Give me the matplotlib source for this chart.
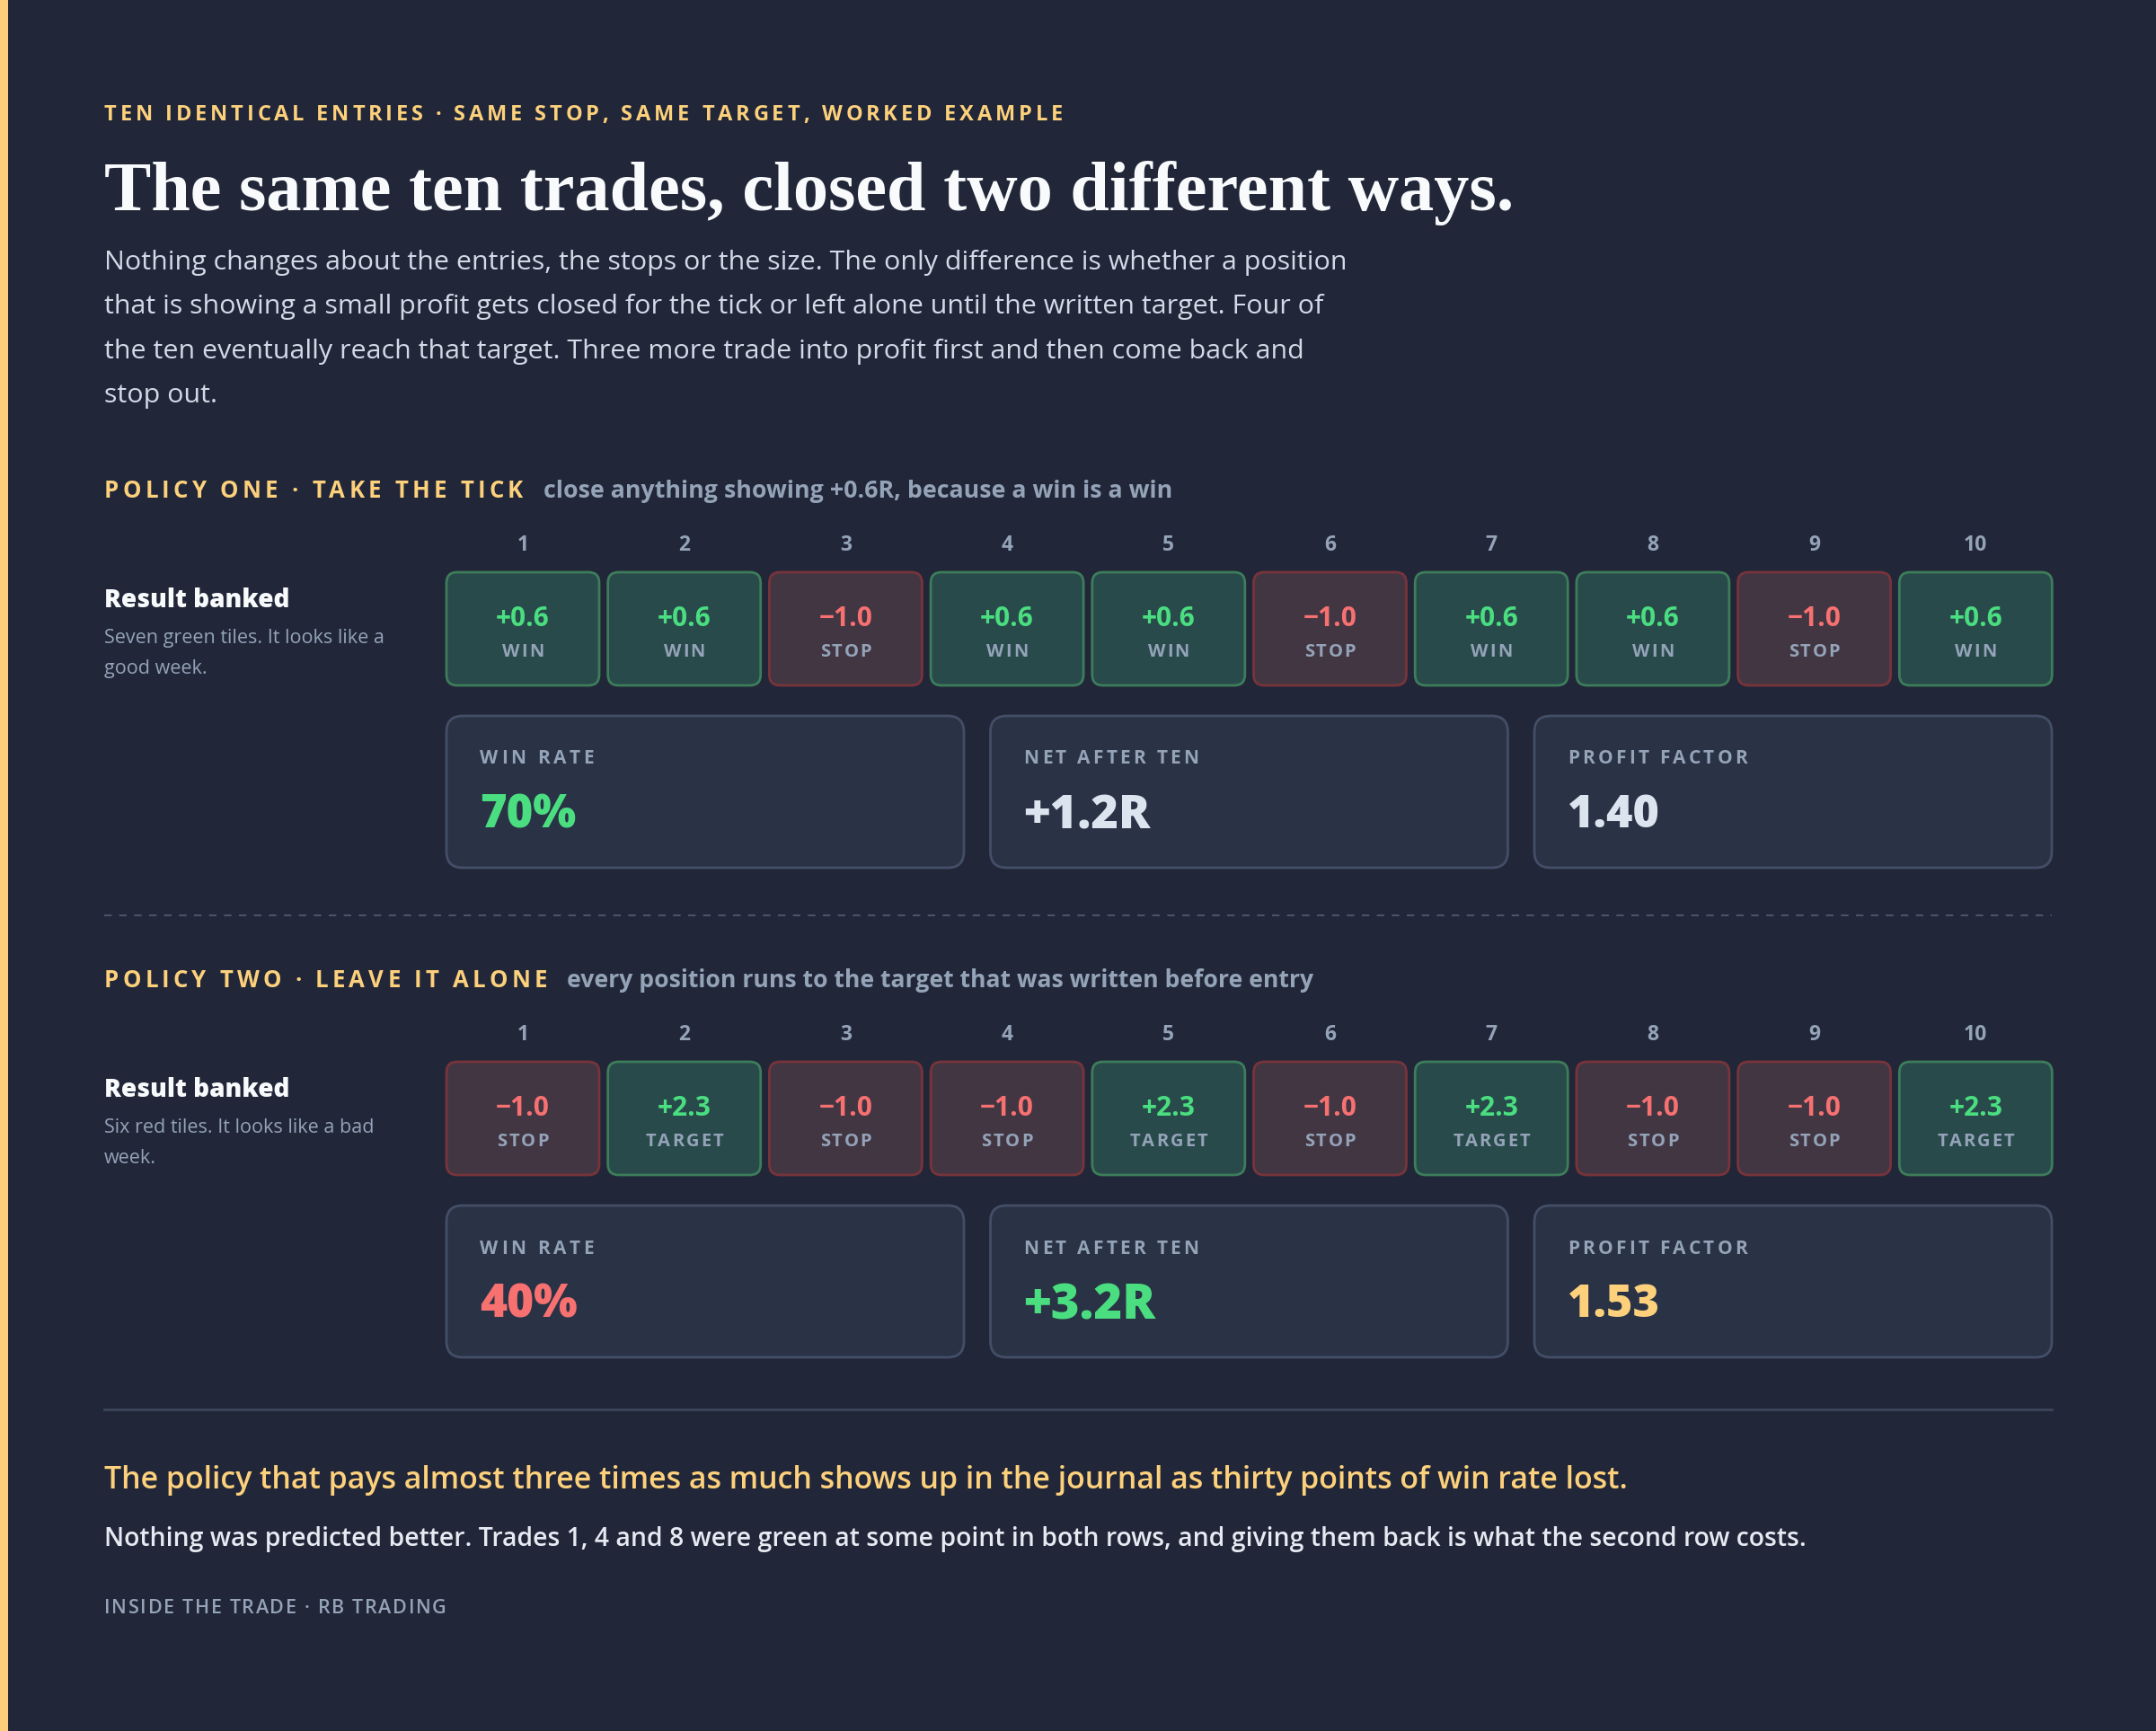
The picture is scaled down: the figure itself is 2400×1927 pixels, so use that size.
import matplotlib
matplotlib.use("Agg")
import matplotlib.pyplot as plt
from matplotlib.patches import FancyBboxPatch, Rectangle

# ---- data -------------------------------------------------------------
trade_numbers = [1, 2, 3, 4, 5, 6, 7, 8, 9, 10]

policy_one_r = [0.6, 0.6, -1.0, 0.6, 0.6, -1.0, 0.6, 0.6, -1.0, 0.6]
policy_one_tag = ["WIN", "WIN", "STOP", "WIN", "WIN", "STOP", "WIN", "WIN", "STOP", "WIN"]
policy_two_r = [-1.0, 2.3, -1.0, -1.0, 2.3, -1.0, 2.3, -1.0, -1.0, 2.3]
policy_two_tag = ["STOP", "TARGET", "STOP", "STOP", "TARGET", "STOP", "TARGET", "STOP", "STOP", "TARGET"]

stat_labels = ["WIN RATE", "NET AFTER TEN", "PROFIT FACTOR"]
policy_one_stats = ["70%", "+1.2R", "1.40"]
policy_two_stats = ["40%", "+3.2R", "1.53"]

eyebrow = "TEN IDENTICAL ENTRIES · SAME STOP, SAME TARGET, WORKED EXAMPLE"
title = "The same ten trades, closed two different ways."
intro_lines = [
    "Nothing changes about the entries, the stops or the size. The only difference is whether a position",
    "that is showing a small profit gets closed for the tick or left alone until the written target. Four of",
    "the ten eventually reach that target. Three more trade into profit first and then come back and",
    "stop out.",
]
policy_heads = ["POLICY ONE · TAKE THE TICK", "POLICY TWO · LEAVE IT ALONE"]
policy_notes = ["close anything showing +0.6R, because a win is a win",
                "every position runs to the target that was written before entry"]
row_notes = [["Seven green tiles. It looks like a", "good week."],
             ["Six red tiles. It looks like a bad", "week."]]
conclusion = "The policy that pays almost three times as much shows up in the journal as thirty points of win rate lost."
conclusion_2 = ("Nothing was predicted better. Trades 1, 4 and 8 were green at some point in both rows, "
                "and giving them back is what the second row costs.")
footer = "INSIDE THE TRADE · RB TRADING"

# ---- colours ----------------------------------------------------------
BG = "#212739"
YELLOW = "#fdd17c"
WHITE = "#f8fafc"
BODY = "#d3dae6"
GRAY = "#94a3b8"
GREEN = "#4ade80"
RED = "#f87171"
G_FILL, G_EDGE = "#284a4b", "#3d7d5a"
R_FILL, R_EDGE = "#433643", "#78343a"
C_FILL, C_EDGE = "#2a3246", "#434e67"
PALE = "#dce4ef"

SANS = ["Open Sans", "DejaVu Sans"]
SERIF = ["Liberation Serif", "DejaVu Serif"]

W, H = 2400, 1927
fig = plt.figure(figsize=(W / 100, H / 100), dpi=100)
fig.patch.set_facecolor(BG)
ax = fig.add_axes([0, 0, 1, 1])
ax.set_xlim(0, W)
ax.set_ylim(H, 0)
ax.axis("off")
ax.set_facecolor(BG)
renderer = fig.canvas.get_renderer()


def text_width(s, size, **kw):
    t = ax.text(0, 0, s, fontsize=size, **kw)
    w = t.get_window_extent(renderer).width
    t.remove()
    return w


def fit(s, target, **kw):
    return 20 * target / text_width(s, 20, **kw)


def put(x, y, s, size, **kw):
    # va="center" sits a little high because it includes the descent
    ax.text(x, y + 0.2 * size, s, fontsize=size, va="center", **kw)


def spaced(x, y, s, size, color, target=None, spacing=0.0, ha="left", **kw):
    kw.setdefault("family", SANS)
    kw.setdefault("fontweight", "bold")
    ref = text_width("HH", size, **kw)
    widths = []
    for ch in s:
        if ch == " ":
            widths.append(text_width("H H", size, **kw) - ref)
        else:
            widths.append(text_width(ch, size, **kw))
    if target is not None:
        spacing = (target - sum(widths)) / (len(s) - 1)
    total = sum(widths) + spacing * (len(s) - 1)
    if ha == "center":
        x -= total / 2
    for ch, w in zip(s, widths):
        put(x, y, ch, size, color=color, ha="left", **kw)
        x += w + spacing


def fmt_r(v):
    return f"{v:+.1f}".replace("-", "\u2212")


# left accent bar
ax.add_patch(Rectangle((0, 0), 9, H, color="#fcd07a", lw=0))

LEFT, RIGHT = 116, 2284

# ---- header -----------------------------------------------------------
spaced(LEFT, 125, eyebrow, 17, YELLOW, target=1067)
ts = fit(title, 1569, family=SERIF, fontweight="bold")
put(LEFT, 204, title, ts, family=SERIF, fontweight="bold", color=WHITE)
bs = fit(intro_lines[0], 1379, family=SANS)
for i, line in enumerate(intro_lines):
    put(LEFT, 288 + i * 49.5, line, bs, family=SANS, color=BODY)

# ---- policy blocks ----------------------------------------------------
tile_left, tile_pitch, tile_w, tile_h = 497, 179.7, 170, 126
card_left, card_pitch, card_w, card_h = 497, 605.5, 576, 169

blocks = [
    dict(y0=543, r=policy_one_r, tag=policy_one_tag, stats=policy_one_stats,
         stat_colors=[GREEN, PALE, PALE], head_w=466, note_x=605, note_w=701),
    dict(y0=1088, r=policy_two_r, tag=policy_two_tag, stats=policy_two_stats,
         stat_colors=[RED, GREEN, YELLOW], head_w=493, note_x=631, note_w=828),
]
stat_label_w = [127, 195, 200]
stat_value_w = {"70%": 107, "40%": 109, "+1.2R": 141, "+3.2R": 147, "1.40": 103, "1.53": 103}

for k, b in enumerate(blocks):
    y0 = b["y0"]
    spaced(LEFT, y0, policy_heads[k], 18.5, YELLOW, target=b["head_w"])
    ns = fit(policy_notes[k], b["note_w"], family=SANS, fontweight="bold")
    put(b["note_x"], y0, policy_notes[k], ns, family=SANS,
        fontweight="bold", color=GRAY)

    # row caption
    rs = fit("Result banked", 207, family=SANS, fontweight="heavy")
    put(LEFT, y0 + 121, "Result banked", rs, family=SANS,
        fontweight="heavy", color=WHITE)
    for j, line in enumerate(row_notes[k]):
        put(LEFT, y0 + 164 + j * 34, line, 15.5, family=SANS, color=GRAY)

    # tiles
    ty = y0 + 94
    for i, (n, v, tag) in enumerate(zip(trade_numbers, b["r"], b["tag"])):
        x = tile_left + i * tile_pitch
        cx = x + tile_w / 2
        put(cx, y0 + 61, str(n), 16.5, family=SANS, fontweight="bold",
            color=GRAY, ha="center")
        win = v > 0
        ax.add_patch(FancyBboxPatch((x, ty), tile_w, tile_h,
                                    boxstyle="round,pad=0,rounding_size=12",
                                    fc=G_FILL if win else R_FILL,
                                    ec=G_EDGE if win else R_EDGE, lw=2))
        put(cx, ty + 48, fmt_r(v), 21.5, family=SANS, fontweight="bold",
            color=GREEN if win else RED, ha="center")
        spaced(cx, ty + 86, tag, 14.5, GRAY, spacing=2.0, ha="center")

    # stat cards
    cy = y0 + 254
    for i, (lab, val, col) in enumerate(zip(stat_labels, b["stats"], b["stat_colors"])):
        x = card_left + i * card_pitch
        ax.add_patch(FancyBboxPatch((x, cy), card_w, card_h,
                                    boxstyle="round,pad=0,rounding_size=18",
                                    fc=C_FILL, ec=C_EDGE, lw=2))
        spaced(x + 37, cy + 45, lab, 15, GRAY, target=stat_label_w[i])
        vs = fit(val, stat_value_w[val], family=SANS, fontweight="heavy")
        put(x + 37, cy + 104, val, vs, family=SANS, fontweight="heavy", color=col)

# dividers
ax.plot([LEFT, RIGHT], [1019, 1019], color="#4a5468", lw=1.5, ls=(0, (4, 4)))
ax.plot([LEFT, RIGHT], [1569, 1569], color="#3b4559", lw=2)

# ---- conclusion -------------------------------------------------------
cs = fit(conclusion, 1693, family=SANS, fontweight="semibold")
put(LEFT, 1643, conclusion, cs, family=SANS, fontweight="semibold", color=YELLOW)
cs2 = fit(conclusion_2, 1889, family=SANS, fontweight="semibold")
put(LEFT, 1709, conclusion_2, cs2, family=SANS, fontweight="semibold", color="#e6ebf2")
spaced(LEFT, 1787, footer, 15.5, GRAY, target=381, fontweight="semibold")

fig.savefig("out.png", dpi=100, facecolor=BG)
